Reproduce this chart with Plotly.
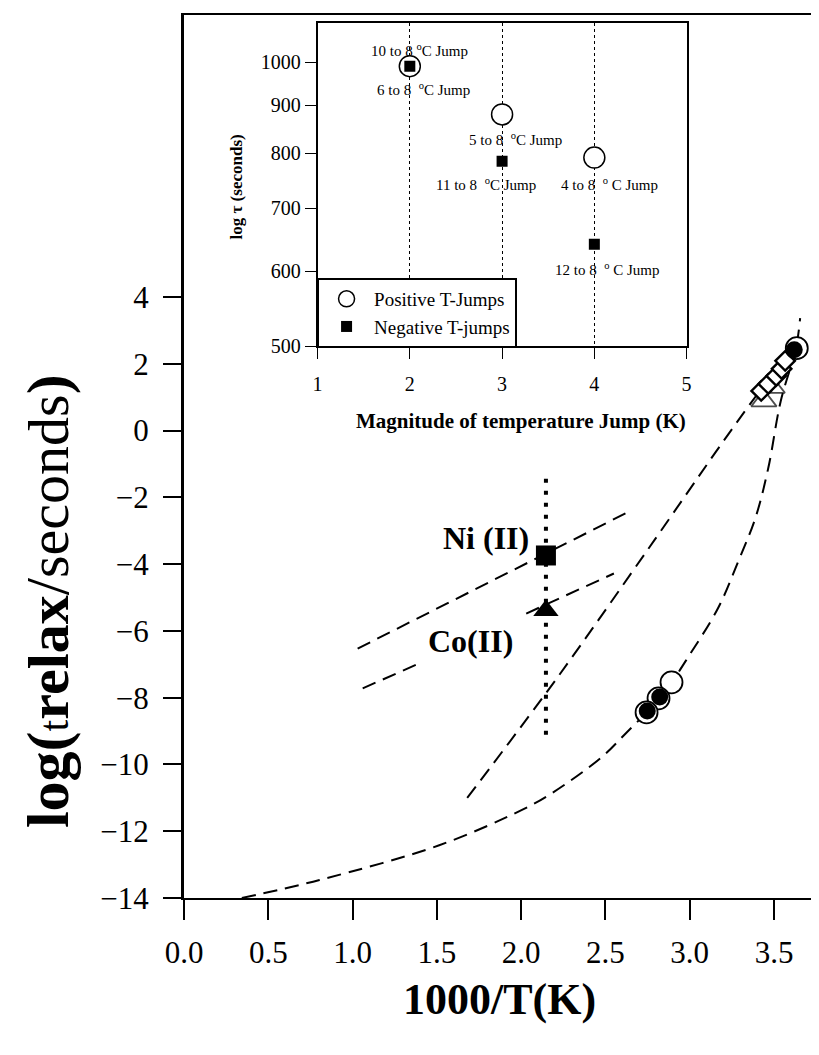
import numpy as np
import plotly.graph_objects as go

SERIF = "Liberation Serif, Times New Roman, serif"

# ---------------- main plot data ----------------
# lower (long) dashed curve
curve_low_x = [0.343, 0.804, 1.514, 2.005, 2.182, 2.478, 2.62, 2.744, 2.815, 2.892, 2.99, 3.17, 3.29, 3.39, 3.466, 3.54, 3.63, 3.655]
curve_low_y = [-14.0, -13.46, -12.42, -11.36, -10.86, -9.78, -9.07, -8.44, -8.02, -7.54, -6.79, -5.30, -3.89, -2.61, -1.12, 0.89, 2.47, 3.37]
# middle steep dashed line
curve_mid_x = [1.68, 2.20, 2.76, 3.16, 3.35, 3.58]
curve_mid_y = [-11.0, -7.5, -3.5, -0.6, 0.74, 2.3]
# Ni(II) dashed line
ni_line_x = [1.03, 2.65]
ni_line_y = [-6.53, -2.40]
# Co(II) dashed line (broken around the label)
co_line_x = [1.06, 1.41, None, 2.03, 2.55]
co_line_y = [-7.72, -6.94, None, -5.48, -4.28]
# vertical dotted line
vdot_x = [2.147, 2.147]
vdot_y = [-1.44, -9.12]

ni_x, ni_y = [2.147], [-3.74]
co_x, co_y = [2.147], [-5.39]

open_circ_x = [2.892, 2.815, 2.744, 3.635]
open_circ_y = [-7.54, -8.02, -8.44, 2.47]
fill_circ_x = [2.822, 2.748, 3.62]
fill_circ_y = [-7.98, -8.40, 2.42]
diam_x = [3.424, 3.466, 3.513, 3.545, 3.566]
diam_y = [1.19, 1.40, 1.64, 1.85, 2.09]
tri_x = [3.44, 3.51]
tri_y = [0.89, 1.25]

x_ticks = [0.0, 0.5, 1.0, 1.5, 2.0, 2.5, 3.0, 3.5]
x_ticktext = ["0.0", "0.5", "1.0", "1.5", "2.0", "2.5", "3.0", "3.5"]
y_ticks = [4, 2, 0, -2, -4, -6, -8, -10, -12, -14]

# ---------------- inset data ----------------
jump_k = [2, 3, 4]
pos_tau = [990, 880, 792]
neg_tau = [990, 785, 641]
inset_xticks = [1, 2, 3, 4, 5]
inset_yticks = [500, 600, 700, 800, 900, 1000]

inset_labels = ["10 to 8 <sup>o</sup>C Jump", "6 to 8  <sup>o</sup>C Jump", "5 to 8  <sup>o</sup>C Jump",
                "11 to 8  <sup>o</sup>C Jump", "4 to 8  <sup>o</sup> C Jump", "12 to 8  <sup>o</sup> C Jump"]
inset_label_x = [2.10, 2.15, 3.15, 2.83, 4.16, 4.14]
inset_label_y = [1030, 937, 829, 743, 743, 603]

fig = go.Figure()

dash_style = dict(color="black", width=2, dash="14px,8px")
fig.add_trace(go.Scatter(x=curve_low_x, y=curve_low_y, mode="lines", line=dict(shape="spline", **dash_style), showlegend=False))
fig.add_trace(go.Scatter(x=curve_mid_x, y=curve_mid_y, mode="lines", line=dict(shape="spline", **dash_style), showlegend=False))
fig.add_trace(go.Scatter(x=ni_line_x, y=ni_line_y, mode="lines", line=dash_style, showlegend=False))
fig.add_trace(go.Scatter(x=co_line_x, y=co_line_y, mode="lines", line=dash_style, showlegend=False))
fig.add_trace(go.Scatter(x=vdot_x, y=vdot_y, mode="lines", line=dict(color="black", width=4, dash="4px,8px"), showlegend=False))

fig.add_trace(go.Scatter(x=ni_x, y=ni_y, mode="markers", marker=dict(symbol="square", size=20, color="black"), showlegend=False))
fig.add_trace(go.Scatter(x=co_x, y=co_y, mode="markers", marker=dict(symbol="triangle-up", size=22, color="black"), showlegend=False))

fig.add_trace(go.Scatter(x=tri_x, y=tri_y, mode="markers",
                         marker=dict(symbol="triangle-up-open", size=[22, 16], color="black", line=dict(width=1.8)), showlegend=False))
fig.add_trace(go.Scatter(x=diam_x, y=diam_y, mode="markers",
                         marker=dict(symbol="diamond", size=15, color="white", line=dict(color="black", width=2.4)), showlegend=False))
fig.add_trace(go.Scatter(x=open_circ_x, y=open_circ_y, mode="markers",
                         marker=dict(symbol="circle", size=22, color="white", line=dict(color="black", width=1.8)), showlegend=False))
fig.add_trace(go.Scatter(x=fill_circ_x, y=fill_circ_y, mode="markers",
                         marker=dict(symbol="circle", size=17, color="black"), showlegend=False))

# inset traces
fig.add_trace(go.Scatter(x=jump_k, y=pos_tau, mode="markers", xaxis="x2", yaxis="y2", name="Positive T-Jumps",
                         marker=dict(symbol="circle", size=21, color="white", line=dict(color="black", width=1.5))))
fig.add_trace(go.Scatter(x=jump_k, y=neg_tau, mode="markers", xaxis="x2", yaxis="y2", name="Negative T-jumps",
                         marker=dict(symbol="square", size=11, color="black")))

annotations = []
for t, lx, ly in zip(inset_labels, inset_label_x, inset_label_y):
    annotations.append(dict(x=lx, y=np.log10(ly), xref="x2", yref="y2", text=t, showarrow=False,
                            font=dict(family=SERIF, size=15, color="black"), xanchor="center", yanchor="middle"))

ytitle = ('<span style="font-size:60px"><b>log(</b></span><span style="font-size:42px">t</span>'
          '<b><span style="font-size:58px">relax</span></b>'
          '<span style="font-size:62px">/</span><span style="font-size:58px">seconds</span>'
          '<span style="font-size:60px"><b>)</b></span>')

annotations += [
    dict(x=1.79, y=-3.21, xref="x", yref="y", text="<b>Ni (II)</b>", showarrow=False,
         font=dict(family=SERIF, size=32, color="black"), xanchor="center", yanchor="middle"),
    dict(x=1.70, y=-6.29, xref="x", yref="y", text="<b>Co(II)</b>", showarrow=False,
         font=dict(family=SERIF, size=32, color="black"), xanchor="center", yanchor="middle"),
    dict(x=(500 - 184) / 635, y=(898 - 1000) / 885, xref="paper", yref="paper", text="<b>1000/T(K)</b>",
         showarrow=False, font=dict(family=SERIF, size=44, color="black"), xanchor="center", yanchor="middle"),
    dict(x=(46 - 184) / 635, y=(898 - 600) / 885, xref="paper", yref="paper", textangle=-90,
         text=ytitle, showarrow=False, font=dict(family=SERIF, size=58, color="black"),
         xanchor="center", yanchor="middle"),
    dict(x=(522 - 184) / 635, y=(898 - 420) / 885, xref="paper", yref="paper",
         text="<b>Magnitude of temperature Jump (K)</b>", showarrow=False,
         font=dict(family=SERIF, size=21, color="black"), xanchor="center", yanchor="middle"),
    dict(x=(237 - 184) / 635, y=(898 - 185) / 885, xref="paper", yref="paper", textangle=-90,
         text="<b>log τ (seconds)</b>", showarrow=False, font=dict(family=SERIF, size=17, color="black"),
         xanchor="center", yanchor="middle"),
]

fig.update_layout(
    width=819, height=1055,
    margin=dict(l=176, r=8, t=5, b=165),
    paper_bgcolor="white", plot_bgcolor="white",
    font=dict(family=SERIF, color="black"),
    xaxis=dict(range=[0, 3.755], tickvals=x_ticks, ticktext=x_ticktext, ticks="outside", ticklen=20,
               tickwidth=1.5, tickcolor="black", showline=True, linecolor="black", linewidth=2, mirror=True,
               showgrid=False, zeroline=False, tickfont=dict(family=SERIF, size=31), ticklabelstandoff=6),
    yaxis=dict(range=[-14, 12.45], tickvals=y_ticks, ticks="outside", ticklen=18, tickwidth=1.5,
               tickcolor="black", showline=True, linecolor="black", linewidth=3, showgrid=False, zeroline=False,
               tickfont=dict(family=SERIF, size=31), ticklabelstandoff=8),
    xaxis2=dict(domain=[0.211, 0.794], anchor="y2", range=[1, 5], tickvals=inset_xticks, ticks="outside",
                ticklen=11, tickcolor="black", showline=True, linecolor="black", linewidth=1.5, mirror=True,
                showgrid=True, gridcolor="black", griddash="dot", gridwidth=1, zeroline=False,
                tickfont=dict(family=SERIF, size=20), ticklabelstandoff=8),
    yaxis2=dict(domain=[0.625, 0.991], anchor="x2", type="log", range=[np.log10(500), np.log10(1100)],
                tickvals=inset_yticks, ticktext=[str(v) for v in inset_yticks], ticks="outside", ticklen=11,
                tickcolor="black", showline=True, linecolor="black", linewidth=1.5, mirror=True,
                showgrid=False, zeroline=False, tickfont=dict(family=SERIF, size=20)),
    legend=dict(x=0.211, y=(898 - 277) / 885, xanchor="left", yanchor="top", bgcolor="white",
                bordercolor="black", borderwidth=1.5, font=dict(family=SERIF, size=19, color="black"),
                itemwidth=45),
    annotations=annotations,
)

fig.write_html("out.html")
